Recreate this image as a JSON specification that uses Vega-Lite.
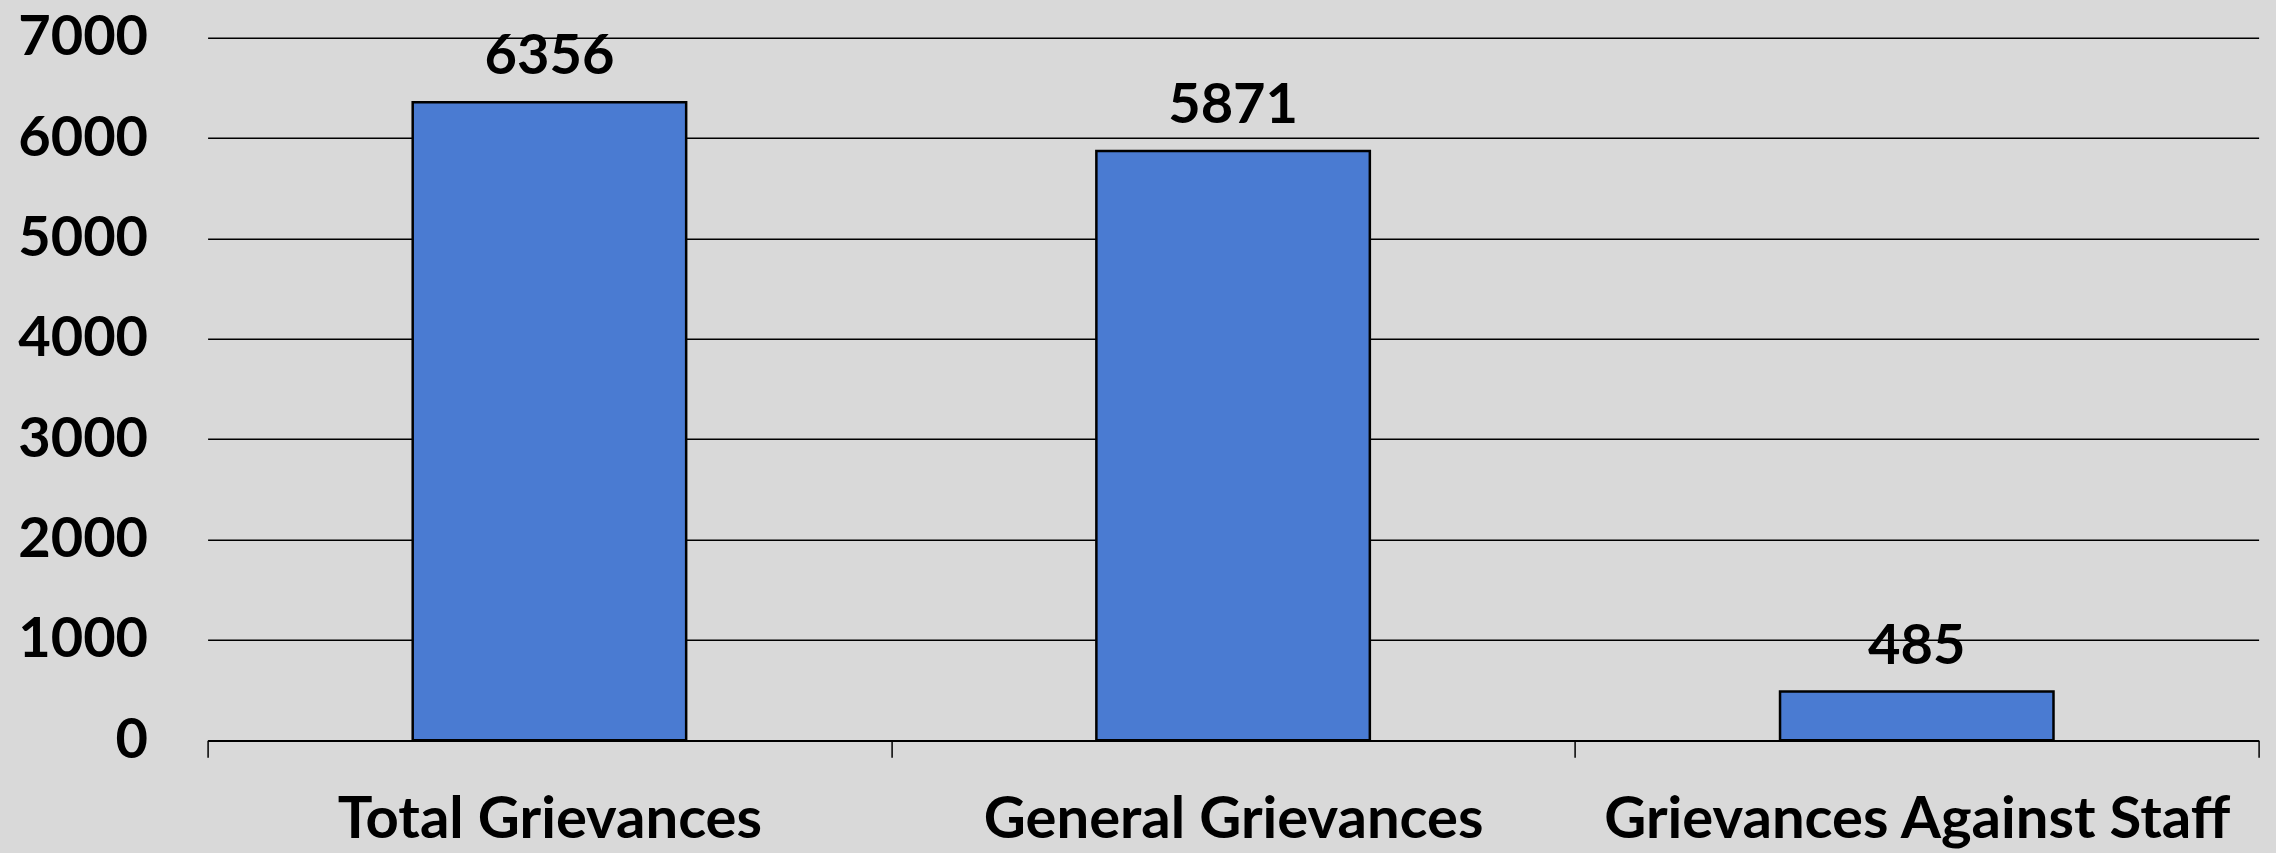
{
  "$schema": "https://vega.github.io/schema/vega-lite/v6.json",
  "width": 2051,
  "height": 702.6,
  "autosize": {"type": "none"},
  "padding": {"left": 207.6, "top": 37.7, "right": 17.4, "bottom": 112.7},
  "background": "#d9d9d9",
  "config": {
    "view": {"stroke": null},
    "font": "Lato"
  },
  "data": {
    "values": [
      {"category": "Total Grievances", "count": 6356},
      {"category": "General Grievances", "count": 5871},
      {"category": "Grievances Against Staff", "count": 485}
    ]
  },
  "encoding": {
    "x": {
      "field": "category",
      "type": "nominal",
      "sort": null,
      "scale": {"paddingInner": 0, "paddingOuter": 0},
      "axis": {
        "title": null,
        "labelAngle": 0,
        "labelLimit": 0,
        "labelFont": "Lato",
        "labelFontWeight": "bold",
        "labelFontSize": 58,
        "labelColor": "#000000",
        "labelBaseline": "alphabetic",
        "labelPadding": 80,
        "tickBand": "extent",
        "tickSize": 17,
        "tickColor": "#000000",
        "tickWidth": 1.5,
        "domainColor": "#000000",
        "domainWidth": 1.5,
        "grid": false
      }
    }
  },
  "layer": [
    {
      "mark": {"type": "bar", "width": {"band": 0.4}, "fill": "#4a7bd2", "stroke": "#000000", "strokeWidth": 2.5},
      "encoding": {
        "y": {
          "field": "count",
          "type": "quantitative",
          "scale": {"domain": [0, 7000], "nice": false},
          "axis": {
            "title": null,
            "values": [0, 1000, 2000, 3000, 4000, 5000, 6000, 7000],
            "format": "d",
            "domain": false,
            "ticks": false,
            "grid": true,
            "gridColor": "#000000",
            "gridWidth": 1.5,
            "gridOpacity": 1,
            "labelFont": "Lato",
            "labelFontWeight": "bold",
            "labelFontSize": 56,
            "labelColor": "#000000",
            "labelPadding": 60
          }
        }
      }
    },
    {
      "mark": {"type": "text", "baseline": "alphabetic", "dy": -28, "font": "Lato", "fontWeight": "bold", "fontSize": 56, "color": "#000000"},
      "encoding": {
        "y": {"field": "count", "type": "quantitative"},
        "text": {"field": "count", "type": "quantitative", "format": "d"}
      }
    }
  ]
}
